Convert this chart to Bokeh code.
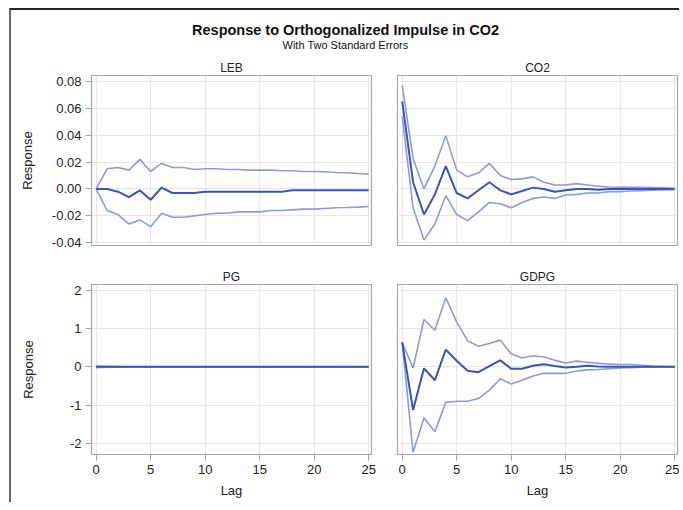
from bokeh.plotting import figure
from bokeh.layouts import column, row
from bokeh.models import Range1d, FixedTicker, NumeralTickFormatter
from bokeh.embed import file_html
from bokeh.resources import INLINE
from bokeh.core.properties import value

lags = list(range(26))

leb_resp = [0.0, 0.0, -0.002, -0.006, -0.001, -0.008, 0.001, -0.003, -0.003, -0.003,
            -0.002, -0.002, -0.002, -0.002, -0.002, -0.002, -0.002, -0.002, -0.001, -0.001,
            -0.001, -0.001, -0.001, -0.001, -0.001, -0.001]
leb_upper = [0.0, 0.015, 0.016, 0.014, 0.022, 0.013, 0.019, 0.016, 0.016, 0.0145,
             0.015, 0.015, 0.0145, 0.0145, 0.014, 0.014, 0.014, 0.0135, 0.0135, 0.013,
             0.013, 0.0128, 0.0122, 0.012, 0.0115, 0.011]
leb_lower = [0.0, -0.016, -0.019, -0.026, -0.023, -0.028, -0.018, -0.021, -0.021, -0.020,
             -0.019, -0.018, -0.018, -0.017, -0.017, -0.017, -0.016, -0.016, -0.0155, -0.015,
             -0.015, -0.0145, -0.014, -0.0138, -0.0135, -0.013]

co2_resp = [0.065, 0.005, -0.019, -0.004, 0.017, -0.003, -0.007, -0.001, 0.005, -0.001,
            -0.004, -0.0015, 0.001, 0.0, -0.002, -0.001, 0.0, 0.0, -0.0005, 0.0,
            0.0, 0.0, 0.0, 0.0, 0.0, 0.0]
co2_upper = [0.077, 0.0225, 0.0, 0.017, 0.0395, 0.014, 0.009, 0.012, 0.019, 0.010,
             0.007, 0.0075, 0.009, 0.005, 0.003, 0.003, 0.004, 0.003, 0.002, 0.0015,
             0.0012, 0.0012, 0.0012, 0.001, 0.0008, 0.0005]
co2_lower = [0.054, -0.014, -0.038, -0.026, -0.005, -0.019, -0.0235, -0.017, -0.010, -0.011,
             -0.014, -0.010, -0.007, -0.006, -0.007, -0.0045, -0.004, -0.003, -0.003, -0.002,
             -0.002, -0.0015, -0.0012, -0.001, -0.0008, -0.0005]

pg_resp = [0.0] * 26
pg_upper = [0.02, 0.01, 0.005, 0.003, 0.002, 0.001, 0.001, 0.0, 0.0, 0.0,
            0.0, 0.0, 0.0, 0.0, 0.0, 0.0, 0.0, 0.0, 0.0, 0.0,
            0.0, 0.0, 0.0, 0.0, 0.0, 0.0]
pg_lower = [-0.02, -0.01, -0.005, -0.003, -0.002, -0.001, -0.001, 0.0, 0.0, 0.0,
            0.0, 0.0, 0.0, 0.0, 0.0, 0.0, 0.0, 0.0, 0.0, 0.0,
            0.0, 0.0, 0.0, 0.0, 0.0, 0.0]

gdpg_resp = [0.64, -1.13, -0.04, -0.35, 0.45, 0.16, -0.10, -0.14, 0.02, 0.17,
             -0.05, -0.05, 0.03, 0.07, 0.02, -0.02, 0.0, 0.03, 0.01, 0.0,
             0.0, 0.0, 0.0, 0.0, 0.0, 0.0]
gdpg_upper = [0.64, -0.03, 1.24, 0.96, 1.81, 1.18, 0.68, 0.54, 0.61, 0.70,
              0.34, 0.23, 0.29, 0.26, 0.17, 0.10, 0.15, 0.12, 0.09, 0.07,
              0.06, 0.06, 0.04, 0.02, 0.01, 0.0]
gdpg_lower = [0.64, -2.24, -1.34, -1.70, -0.93, -0.90, -0.90, -0.83, -0.61, -0.31,
              -0.45, -0.35, -0.24, -0.17, -0.17, -0.17, -0.11, -0.08, -0.07, -0.05,
              -0.03, -0.02, -0.01, -0.005, 0.0, 0.0]

x_ticks = [0, 5, 10, 15, 20, 25]
top_ticks = [-0.04, -0.02, 0.0, 0.02, 0.04, 0.06, 0.08]
bottom_ticks = [-2, -1, 0, 1, 2]

FONT = "Liberation Sans"
CENTER = "#3a55b5"
BAND = "#8a9be0"
FRAME = "#a6a6a6"
GRID = "#e6e6e6"
TXT = "#222222"

FRAME_W = 280
FRAME_H = 170
LEFT_PAD = 80


def panel(name, resp, upper, lower, yr, yticks, yfmt, left, bottom, label_standoff=14):
    bl = LEFT_PAD if left else 13
    br = 13 if left else 2
    bb = 48 if bottom else 20
    p = figure(width=FRAME_W + bl + br, height=FRAME_H + 19 + bb,
               output_backend="svg", toolbar_location=None,
               x_range=Range1d(-0.43, 25.26), y_range=Range1d(*yr),
               min_border_left=bl, min_border_right=br,
               min_border_top=19, min_border_bottom=bb)
    p.title.text = name
    p.title.align = "center"
    p.title.text_font = FONT
    p.title.text_font_size = "12px"
    p.title.text_font_style = "normal"
    p.title.text_color = TXT
    p.title.standoff = 2
    p.outline_line_color = FRAME
    p.outline_line_width = 1.2
    p.background_fill_color = "white"
    p.border_fill_color = "white"

    for ax in (p.xaxis[0], p.yaxis[0]):
        ax.axis_line_color = FRAME
        ax.major_tick_line_color = FRAME
        ax.major_tick_out = 6
        ax.major_tick_in = 0
        ax.minor_tick_line_color = None
        ax.major_label_text_font = FONT
        ax.major_label_text_font_size = "13px"
        ax.major_label_text_color = TXT
        ax.axis_label_text_font = FONT
        ax.axis_label_text_font_size = "13px"
        ax.axis_label_text_font_style = "normal"
        ax.axis_label_text_color = TXT
        ax.major_label_standoff = 4

    p.xaxis.ticker = FixedTicker(ticks=x_ticks)
    p.yaxis.ticker = FixedTicker(ticks=yticks)
    p.yaxis.formatter = NumeralTickFormatter(format=yfmt)
    p.xgrid.grid_line_color = GRID
    p.ygrid.grid_line_color = GRID
    p.xgrid.ticker = FixedTicker(ticks=x_ticks)
    p.ygrid.ticker = FixedTicker(ticks=yticks)

    if left:
        p.yaxis.axis_label = "Response"
        p.yaxis.axis_label_standoff = label_standoff
    else:
        p.yaxis.visible = False
    if bottom:
        p.xaxis.axis_label = "Lag"
        p.xaxis.axis_label_standoff = 6
    else:
        p.xaxis.visible = False

    p.line(lags, upper, line_color=BAND, line_width=1.6)
    p.line(lags, lower, line_color=BAND, line_width=1.6)
    p.line(lags, resp, line_color=CENTER, line_width=2)
    return p


top_range = (-0.042, 0.0843)
bot_range = (-2.296, 2.157)

p_leb = panel("LEB", leb_resp, leb_upper, leb_lower, top_range, top_ticks, "0.00", True, False, 14)
p_co2 = panel("CO2", co2_resp, co2_upper, co2_lower, top_range, top_ticks, "0.00", False, False)
p_pg = panel("PG", pg_resp, pg_upper, pg_lower, bot_range, bottom_ticks, "0", True, True, 31)
p_gdpg = panel("GDPG", gdpg_resp, gdpg_upper, gdpg_lower, bot_range, bottom_ticks, "0", False, True)

total_w = p_leb.width + p_co2.width
HEAD_H = 46

head = figure(width=total_w, height=HEAD_H, output_backend="svg", toolbar_location=None,
              x_range=Range1d(0, 1), y_range=Range1d(0, HEAD_H),
              min_border=0, min_border_left=0, min_border_right=0,
              min_border_top=0, min_border_bottom=0)
head.axis.visible = False
head.grid.visible = False
head.outline_line_color = None
head.text(x=[0.5], y=[HEAD_H - 19], text=["Response to Orthogonalized Impulse in CO2"],
          text_align="center", text_baseline="middle", text_font=value(FONT),
          text_font_size="14.5px", text_font_style="bold", text_color="#111111")
head.text(x=[0.5], y=[HEAD_H - 34], text=["With Two Standard Errors"],
          text_align="center", text_baseline="middle", text_font=value(FONT),
          text_font_size="11px", text_color="#111111")

layout = column(head, row(p_leb, p_co2), row(p_pg, p_gdpg), spacing=0,
                styles={"margin-left": "9px", "margin-top": "8px",
                        "border-top": "2px solid #222222",
                        "border-left": "2px solid #6a6a6a"})

open("out.html", "w").write(file_html(layout, INLINE))
